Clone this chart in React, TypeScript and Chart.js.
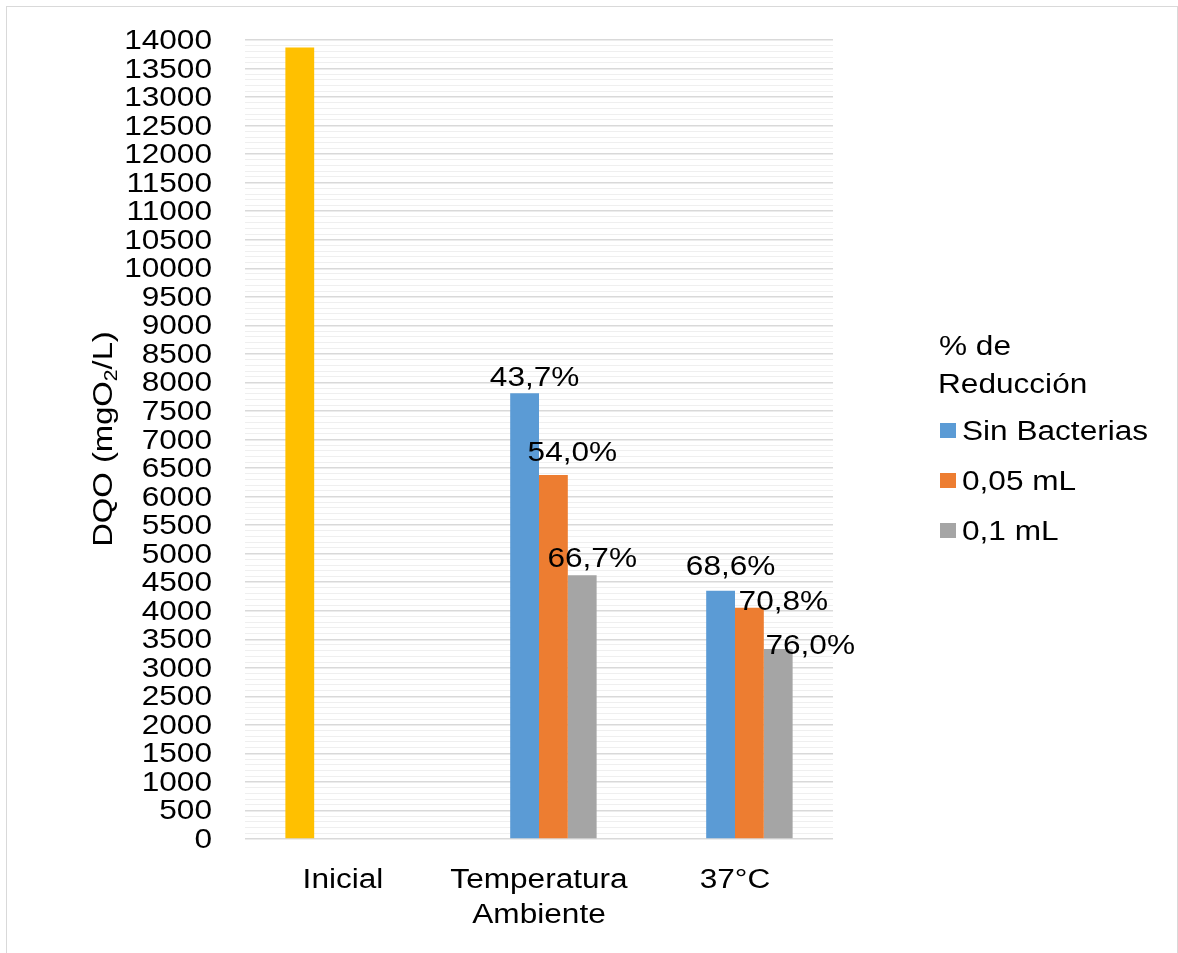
import React, { useEffect, useRef } from "react";
import { Chart, registerables } from "chart.js";

Chart.register(...registerables);

// Categories on the x axis
const categories: (string | string[])[] = ["Inicial", ["Temperatura", "Ambiente"], "37°C"];

// DQO values (mgO2/L)
const inicialValues = [13870, null, null];
const sinBacteriasValues = [null, 7810, 4350];
const dosis005Values = [null, 6380, 4050];
const dosis01Values = [null, 4620, 3330];

// Reduction percentages written above the bars
const sinBacteriasLabels = [null, "43,7%", "68,6%"];
const dosis005Labels = [null, "54,0%", "70,8%"];
const dosis01Labels = [null, "66,7%", "76,0%"];

// Y axis range and tick spacing
const yMin = 0;
const yMax = 14000;
const yMajorStep = 500;
const yMinorStep = 100;

const legendTitle = ["% de", "Reducción"];
const seriesNames = ["Sin Bacterias", "0,05 mL", "0,1 mL"];

const COLORS = {
  inicial: "#FFC000",
  sin: "#5B9BD5",
  d005: "#ED7D31",
  d01: "#A5A5A5",
};

const FONT_FAMILY = '"Liberation Sans", Arial, sans-serif';
const FONT_SIZE = 27;
const STRETCH = 1.17;
const TEXT_COLOR = "#000000";

// Hand-placed label nudges: [dx, gap between bar top and text baseline]
const labelNudges: [number, number][][] = [
  [[0, 0], [10, 7], [10, 16]],
  [[0, 0], [19, 14], [34, -2]],
  [[0, 0], [10, 8], [32, -5]],
];

function wideText(
  ctx: CanvasRenderingContext2D,
  text: string,
  x: number,
  y: number,
  align: CanvasTextAlign,
  size = FONT_SIZE
) {
  ctx.save();
  ctx.translate(x, y);
  ctx.scale(STRETCH, 1);
  ctx.font = `${size}px ${FONT_FAMILY}`;
  ctx.fillStyle = TEXT_COLOR;
  ctx.textAlign = align;
  ctx.textBaseline = "alphabetic";
  ctx.fillText(text, 0, 0);
  ctx.restore();
}

const framePlugin = {
  id: "frame",
  beforeDraw(chart: any) {
    const ctx = chart.ctx as CanvasRenderingContext2D;
    ctx.save();
    ctx.fillStyle = "#ffffff";
    ctx.fillRect(0, 0, chart.width, chart.height);
    ctx.strokeStyle = "#D9D9D9";
    ctx.lineWidth = 1;
    ctx.strokeRect(6.5, 6.5, chart.width - 7, chart.height + 20);
    ctx.restore();
  },
};

const textPlugin = {
  id: "textLayer",
  afterDraw(chart: any) {
    const ctx = chart.ctx as CanvasRenderingContext2D;
    const y = chart.scales.y;
    const x = chart.scales.x;

    // Y tick labels
    for (let v = yMin; v <= yMax; v += yMajorStep) {
      const py = y.getPixelForValue(v);
      wideText(ctx, String(v), 212, py + 9, "right");
    }

    // X category labels
    categories.forEach((cat, i) => {
      const px = x.getPixelForTick(i);
      const lines = Array.isArray(cat) ? cat : [cat];
      lines.forEach((line, k) => {
        wideText(ctx, line, px, 888 + k * 35, "center");
      });
    });

    // Bar value labels
    const labelSets = [sinBacteriasLabels, dosis005Labels, dosis01Labels];
    labelSets.forEach((set, s) => {
      const meta = chart.getDatasetMeta(s + 1);
      set.forEach((txt, j) => {
        if (!txt) return;
        const el = meta.data[j];
        const [dx, gap] = labelNudges[s][j];
        wideText(ctx, txt, el.x + dx, el.y - gap, "center");
      });
    });

    // Rotated y axis title with subscript
    ctx.save();
    ctx.translate(111.5, 439);
    ctx.rotate(-Math.PI / 2);
    ctx.scale(STRETCH, 1);
    ctx.fillStyle = TEXT_COLOR;
    ctx.textBaseline = "alphabetic";
    ctx.textAlign = "left";
    const mainFont = `28px ${FONT_FAMILY}`;
    const subFont = `18px ${FONT_FAMILY}`;
    const parts: [string, string, number][] = [
      ["DQO (mgO", mainFont, 0],
      ["2", subFont, 5],
      ["/L)", mainFont, 0],
    ];
    let total = 0;
    parts.forEach(([t, f]) => {
      ctx.font = f;
      total += ctx.measureText(t).width;
    });
    let cx = -total / 2;
    parts.forEach(([t, f, dy]) => {
      ctx.font = f;
      ctx.fillText(t, cx, dy);
      cx += ctx.measureText(t).width;
    });
    ctx.restore();

    // Legend
    wideText(ctx, legendTitle[0], 939, 355, "left");
    wideText(ctx, legendTitle[1], 938, 393, "left");
    const swatches = [COLORS.sin, COLORS.d005, COLORS.d01];
    seriesNames.forEach((name, i) => {
      const base = 440 + i * 50;
      ctx.save();
      ctx.fillStyle = swatches[i];
      ctx.fillRect(940, base - 17, 16, 15);
      ctx.restore();
      wideText(ctx, name, 962, base, "left");
    });
  },
};

export default function App() {
  const canvasRef = useRef<HTMLCanvasElement | null>(null);

  useEffect(() => {
    if (!canvasRef.current) return;
    const chart = new Chart(canvasRef.current, {
      type: "bar",
      data: {
        labels: categories as any,
        datasets: [
          { label: "Inicial", data: inicialValues as any, backgroundColor: COLORS.inicial },
          { label: seriesNames[0], data: sinBacteriasValues as any, backgroundColor: COLORS.sin },
          { label: seriesNames[1], data: dosis005Values as any, backgroundColor: COLORS.d005 },
          { label: seriesNames[2], data: dosis01Values as any, backgroundColor: COLORS.d01 },
        ],
      },
      options: {
        animation: false,
        responsive: true,
        maintainAspectRatio: false,
        layout: { padding: { left: 0, top: 40, right: 345, bottom: 0 } },
        datasets: {
          bar: { barPercentage: 1, categoryPercentage: 0.588, borderWidth: 0 },
        },
        plugins: {
          legend: { display: false },
          tooltip: { enabled: false },
          title: { display: false },
        },
        scales: {
          x: {
            grid: { display: false },
            border: { display: false },
            ticks: { display: false },
            afterFit: (s: any) => {
              s.height = 114;
            },
          },
          y: {
            min: yMin,
            max: yMax,
            border: { display: false },
            ticks: { display: false, stepSize: yMinorStep },
            grid: {
              drawTicks: false,
              color: (c: any) => (c.tick && c.tick.value % yMajorStep === 0 ? "#D9D9D9" : "#EFEFEF"),
              lineWidth: (c: any) => (c.tick && c.tick.value % yMajorStep === 0 ? 1.5 : 1),
            },
            afterFit: (s: any) => {
              s.width = 245;
            },
          },
        },
      },
      plugins: [framePlugin, textPlugin],
    });
    return () => chart.destroy();
  }, []);

  return (
    <div style={{ position: "fixed", left: 0, top: 0, width: 1178, height: 953, background: "#fff" }}>
      <canvas ref={canvasRef} />
    </div>
  );
}
